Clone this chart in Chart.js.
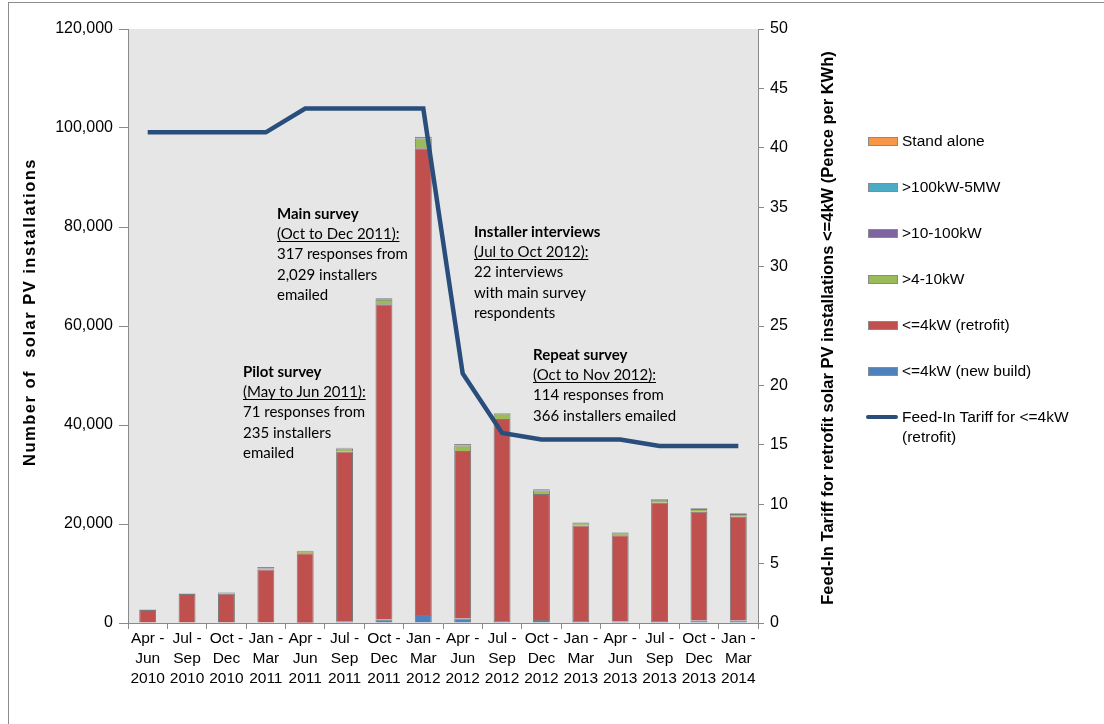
<!DOCTYPE html>
<html>
<head>
<meta charset="utf-8">
<script src="https://cdn.jsdelivr.net/npm/chart.js@4.4.1/dist/chart.umd.min.js"></script>
<style>
  html, body { margin: 0; padding: 0; background: #fff; overflow: hidden; }
  #wrap { position: relative; width: 1104px; height: 724px; }
  #frame { position: absolute; left: 8px; top: 2px; width: 1120px; height: 740px; border: 1px solid #8c8c8c; box-sizing: border-box; pointer-events: none; }
  canvas { position: absolute; left: 0; top: 0; }
  .note { position: absolute; font-family: Lato, "Open Sans", sans-serif; font-size: 15px; line-height: 20.2px; color: #000; white-space: nowrap; }
  .note b { font-weight: bold; }
  .note u { text-decoration: underline; text-underline-offset: 2px; }
  #legend { position: absolute; left: 866px; top: 131px; width: 230px; font-family: "Liberation Sans", Arial, sans-serif; font-size: 15.5px; color: #000; }
  .lg { position: relative; height: 46px; }
  .sw { position: absolute; left: 2px; top: 6px; width: 28px; height: 7px; border: 1px solid #8a8a8a; }
  .ln { position: absolute; left: 0px; top: 8px; width: 32px; height: 4px; border-radius: 2px; }
  .tx { position: absolute; left: 36px; top: 0px; line-height: 20px; white-space: nowrap; }
</style>
</head>
<body>
<div id="wrap">
  <canvas id="c" width="1104" height="724"></canvas>
  <div class="note" style="left:243px; top:361px;"><b>Pilot survey</b><br><u>(May to Jun 2011):</u><br>71 responses from<br>235 installers<br>emailed</div>
  <div class="note" style="left:277px; top:203px;"><b>Main survey</b><br><u>(Oct to Dec 2011):</u><br>317 responses from<br>2,029 installers<br>emailed</div>
  <div class="note" style="left:474px; top:221px;"><b>Installer interviews</b><br><u>(Jul to Oct 2012):</u><br>22 interviews<br>with main survey<br>respondents</div>
  <div class="note" style="left:533px; top:344px;"><b>Repeat survey</b><br><u>(Oct to Nov 2012):</u><br>114 responses from<br>366 installers emailed</div>
  <div id="legend"></div>
  <div id="frame"></div>
</div>
<script>
// Quarterly periods
const categories = [
  ['Apr -', 'Jun', '2010'], ['Jul -', 'Sep', '2010'], ['Oct -', 'Dec', '2010'], ['Jan -', 'Mar', '2011'],
  ['Apr -', 'Jun', '2011'], ['Jul -', 'Sep', '2011'], ['Oct -', 'Dec', '2011'], ['Jan -', 'Mar', '2012'],
  ['Apr -', 'Jun', '2012'], ['Jul -', 'Sep', '2012'], ['Oct -', 'Dec', '2012'], ['Jan -', 'Mar', '2013'],
  ['Apr -', 'Jun', '2013'], ['Jul -', 'Sep', '2013'], ['Oct -', 'Dec', '2013'], ['Jan -', 'Mar', '2014']
];

// Installations per quarter by size band
const newBuild   = [0, 0, 0, 0, 50, 350, 700, 1600, 900, 400, 600, 400, 300, 400, 500, 500];
const retrofit   = [2650, 5850, 5900, 10800, 14050, 34300, 63700, 94300, 33850, 40800, 25460, 19300, 17450, 23900, 22000, 20950];
const band4to10  = [100, 100, 200, 200, 400, 600, 900, 2000, 1100, 1100, 700, 450, 400, 600, 550, 550];
const band10to100 = [50, 50, 100, 300, 100, 150, 300, 300, 300, 100, 250, 150, 150, 150, 150, 150];
const band100to5M = [0, 0, 0, 10, 10, 10, 20, 20, 20, 10, 10, 10, 10, 10, 10, 10];
const standAlone = [0, 0, 0, 10, 10, 10, 10, 10, 10, 10, 10, 10, 10, 10, 10, 10];

// Feed-In Tariff for <=4kW retrofit (pence per kWh)
const tariff = [41.3, 41.3, 41.3, 41.3, 43.3, 43.3, 43.3, 43.3, 21.0, 16.0, 15.44, 15.44, 15.44, 14.9, 14.9, 14.9];

const leftTicks = [0, 20000, 40000, 60000, 80000, 100000, 120000];
const rightTicks = [0, 5, 10, 15, 20, 25, 30, 35, 40, 45, 50];

const leftTitle = 'Number of  solar PV installations';
const rightTitle = 'Feed-In Tariff for retrofit solar PV installations <=4kW (Pence per KWh)';

const barBorder = '#7a7a7a';
function bar(label, data, color) {
  return { type: 'bar', label, data, backgroundColor: color, borderColor: barBorder, borderWidth: 1,
           yAxisID: 'y', stack: 'pv', order: 1, barPercentage: 0.86, categoryPercentage: 0.5 };
}

const datasets = [
  bar('<=4kW (new build)', newBuild, '#4F81BD'),
  bar('<=4kW (retrofit)', retrofit, '#C0504D'),
  bar('>4-10kW', band4to10, '#9BBB59'),
  bar('>10-100kW', band10to100, '#8064A2'),
  bar('>100kW-5MW', band100to5M, '#4BACC6'),
  bar('Stand alone', standAlone, '#F79646'),
  { type: 'line', label: 'Feed-In Tariff for <=4kW (retrofit)', data: tariff, yAxisID: 'y2',
    borderColor: '#2A4E7C', backgroundColor: '#2A4E7C', borderWidth: 4.5, pointRadius: 0,
    tension: 0, order: 0, borderJoinStyle: 'miter' }
];

// Grey plot area behind the bars
const plotBg = {
  id: 'plotBg',
  beforeDraw(chart) {
    const { ctx, chartArea: a } = chart;
    ctx.save();
    ctx.fillStyle = '#e6e6e6';
    ctx.fillRect(a.left, a.top, a.right - a.left, a.bottom - a.top);
    ctx.restore();
  }
};

// Both axis titles read bottom-to-top
const axisTitles = {
  id: 'axisTitles',
  afterDraw(chart) {
    const { ctx, chartArea: a } = chart;
    const cy = (a.top + a.bottom) / 2;
    ctx.save();
    ctx.fillStyle = '#000';
    ctx.font = 'bold 16.5px "Liberation Sans", Arial, sans-serif';
    ctx.textAlign = 'center';
    ctx.textBaseline = 'middle';
    ctx.save();
    ctx.translate(30, cy - 14);
    ctx.rotate(-Math.PI / 2);
    if ('letterSpacing' in ctx) ctx.letterSpacing = '1.5px';
    ctx.fillText(leftTitle, 0, 0);
    ctx.restore();
    ctx.save();
    ctx.translate(a.right + 70, cy + 2);
    ctx.rotate(-Math.PI / 2);
    ctx.fillText(rightTitle, 0, 0);
    ctx.restore();
    ctx.restore();
  }
};

const axisColor = '#8a8a8a';
const tickFont = { family: '"Liberation Sans", Arial, sans-serif', size: 16 };

const chart = new Chart(document.getElementById('c'), {
  data: { labels: categories, datasets },
  plugins: [plotBg, axisTitles],
  options: {
    responsive: false,
    animation: false,
    devicePixelRatio: 1,
    layout: { padding: { left: 10, right: 251, top: 29, bottom: 30 } },
    plugins: { legend: { display: false }, tooltip: { enabled: false } },
    scales: {
      x: {
        stacked: true,
        offset: true,
        grid: { offset: true, drawOnChartArea: false, drawTicks: true, tickLength: 6, color: axisColor },
        border: { color: axisColor },
        ticks: { color: '#000', font: { family: '"Liberation Sans", Arial, sans-serif', size: 15.5, lineHeight: 1.28 }, maxRotation: 0, autoSkip: false, padding: 0 },
        afterFit: s => { s.height = 71; }
      },
      y: {
        position: 'left',
        stacked: true,
        min: 0, max: 120000,
        afterBuildTicks: s => { s.ticks = leftTicks.map(v => ({ value: v })); },
        grid: { drawOnChartArea: false, drawTicks: true, tickLength: 9, color: axisColor },
        border: { color: axisColor },
        ticks: { color: '#000', font: tickFont, padding: 6 },
        afterFit: s => { s.width = 118; }
      },
      y2: {
        position: 'right',
        stacked: false,
        min: 0, max: 50,
        afterBuildTicks: s => { s.ticks = rightTicks.map(v => ({ value: v })); },
        grid: { drawOnChartArea: false, drawTicks: true, tickLength: 6, color: axisColor },
        border: { color: axisColor },
        ticks: { color: '#000', font: tickFont, padding: 6 },
        afterFit: s => { s.width = 95; }
      }
    }
  }
});

// Legend, listed top band first, with the tariff line last
const legend = document.getElementById('legend');
const order = [5, 4, 3, 2, 1, 0, 6];
order.forEach(i => {
  const ds = chart.data.datasets[i];
  const item = document.createElement('div');
  item.className = 'lg';
  const mark = document.createElement('div');
  if (ds.type === 'line') {
    mark.className = 'ln';
    mark.style.background = ds.borderColor;
  } else {
    mark.className = 'sw';
    mark.style.background = ds.backgroundColor;
  }
  const t = document.createElement('div');
  t.className = 'tx';
  t.innerHTML = ds.type === 'line' ? 'Feed-In Tariff for &lt;=4kW<br>(retrofit)' : ds.label.replace(/</g, '&lt;');
  item.appendChild(mark);
  item.appendChild(t);
  legend.appendChild(item);
});
</script>
</body>
</html>
